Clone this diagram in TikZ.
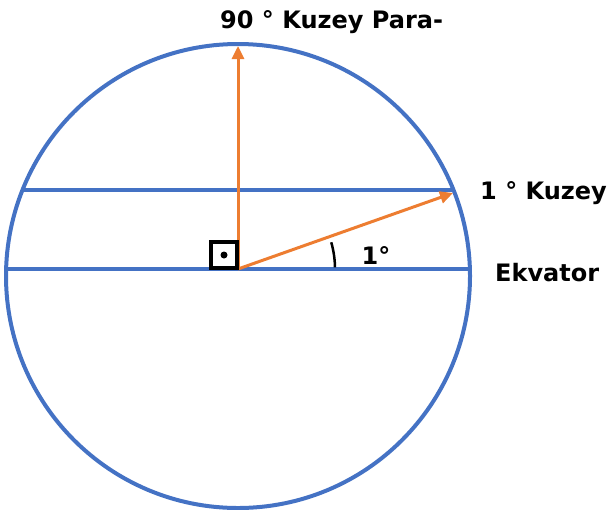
\documentclass[tikz,border=0pt]{standalone}
\usepackage{fontspec}
\setmainfont{DejaVu Sans}
\usetikzlibrary{arrows.meta}

\definecolor{circblue}{HTML}{4472C4}
\definecolor{arroworange}{HTML}{ED7D31}

\begin{document}
\begin{tikzpicture}[x=1pt,y=1pt,
    blueline/.style={circblue, line width=4pt},
    orangearrow/.style={arroworange, line width=3pt, -{Triangle[length=13pt,width=12pt]}},
    label/.style={font=\fontsize{24}{28}\selectfont\bfseries, inner sep=0pt}]
    
    \useasboundingbox (0,0) rectangle (612,-509);
    
    % Circle
    \draw[blueline] (238,-276) circle (232);
    
    % Equator and parallel
    \coordinate (eqW) at (6,-269);
    \coordinate (eqE) at (470,-269);
    \coordinate (parW) at (22,-190);
    \coordinate (parE) at (455,-190);
    \draw[blueline] (eqW) -- (eqE);
    \draw[blueline] (parW) -- (parE);
    
    % Arrows
    \coordinate (O) at (238,-269);
    \coordinate (N) at (238,-46);
    \coordinate (P) at (453,-193);
    \draw[orangearrow] (O) -- (N);
    \draw[orangearrow] (O) -- (P);
    
    % Right angle mark
    \draw[black, line width=4pt] (211,-242) rectangle (237,-268);
    \fill[black] (224,-255) circle (3.5);
    
    % Angle arc
    \draw[black, line width=2.5pt] ([shift={(1:97)}]O) arc (1:16:97);
    
    % Text labels
    \node[label, anchor=west] (t90) at (220,-22) {90 ° Kuzey Para-};
    \node[label, anchor=west] (t1) at (480,-193) {1 ° Kuzey};
    \node[label, anchor=west] (teq) at (495,-273) {Ekvator};
    \node[label] (tang) at (376,-256) {1°};
    
\end{tikzpicture}
\end{document}
